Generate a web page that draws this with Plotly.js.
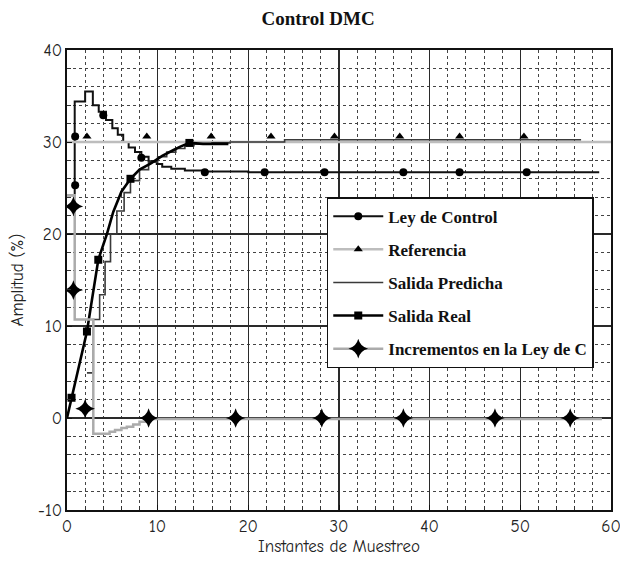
<!DOCTYPE html>
<html>
<head>
<meta charset="utf-8">
<script src="https://cdn.plot.ly/plotly-3.0.1.min.js"></script>
<style>html,body{margin:0;padding:0;background:#fff}#chart{width:620px;height:571px}</style>
</head>
<body>
<div id="chart"></div>
<script>
// ---- data ----
const seriesNames = ["Ley de Control", "Referencia", "Salida Predicha", "Salida Real", "Incrementos en la Ley de C"];

const leyX = [0, 0.85, 2.0, 2.85, 3.5, 4.3, 5.0, 5.6, 6.2, 6.8, 7.5, 8.2, 9.0, 9.9, 10.5, 11.5, 13.0, 15.0, 20.0, 58.7];
const leyY = [24.2, 34.4, 35.5, 34.0, 33.3, 32.4, 31.5, 30.8, 30.0, 29.4, 28.9, 28.4, 27.9, 27.6, 27.3, 27.1, 26.9, 26.8, 26.7, 26.7];
const leyMarkX = [0.9, 0.9, 4.0, 8.2, 15.2, 21.8, 28.4, 37.1, 43.3, 50.7];
const leyMarkY = [30.6, 25.3, 32.9, 28.3, 26.7, 26.7, 26.7, 26.7, 26.7, 26.7];

const refX = [0, 60];
const refY = [30, 30];
const refMarkX = [2.2, 8.8, 15.9, 22.5, 29.5, 36.7, 43.3, 50.4];
const refMarkY = [30.6, 30.6, 30.6, 30.6, 30.6, 30.6, 30.6, 30.6];

const predX = [2.2, 2.9, 3.6, 4.2, 4.8, 5.5, 6.3, 7.0, 8.0, 9.0, 10.0, 11.0, 12.0, 13.0, 14.0, 16.0, 18.0, 24.0, 56.7];
const predY = [4.9, 10.7, 13.4, 17.0, 20.0, 22.5, 24.5, 25.8, 27.0, 27.8, 28.4, 28.9, 29.3, 29.6, 29.8, 29.9, 30.0, 30.25, 30.25];

const realX = [0, 0.5, 2.2, 3.45, 4.4, 5.1, 6.0, 7.0, 8.0, 9.3, 10.5, 11.7, 12.5, 13.5, 15.0, 17.8];
const realY = [0, 2.2, 9.4, 17.2, 20.0, 22.4, 24.6, 26.0, 27.0, 27.7, 28.5, 29.1, 29.5, 29.9, 29.8, 29.8];
const realMarkX = [0.5, 2.2, 3.45, 7.0, 13.5];
const realMarkY = [2.2, 9.4, 17.2, 26.0, 29.9];

const incX = [0, 0.85, 2.9, 4.7, 5.3, 6.0, 6.6, 7.3, 8.0, 9.1, 59];
const incY = [24.2, 10.7, -1.7, -1.5, -1.3, -1.1, -0.95, -0.7, -0.4, -0.1, -0.1];
const incMarkX = [0.7, 0.7, 2.0, 9.0, 18.6, 28.1, 37.1, 47.2, 55.5];
const incMarkY = [23.0, 13.9, 1.0, 0, 0, 0, 0, 0, 0];

const xTicks = [0, 10, 20, 30, 40, 50, 60];
const yTicks = [-10, 0, 10, 20, 30, 40];

// ---- styles ----
const styles = [
  {color: "#111111", width: 2, shape: "hv", symbol: "circle", msize: 8},
  {color: "#bdbdbd", width: 2.5, shape: "linear", symbol: "triangle-up", msize: 8},
  {color: "#3a3a3a", width: 1.6, shape: "hv", symbol: null, msize: 0},
  {color: "#000000", width: 2.6, shape: "linear", symbol: "square", msize: 8},
  {color: "#ababab", width: 2.5, shape: "hv", symbol: "star-diamond", msize: 14}
];
const lines = [[leyX, leyY], [refX, refY], [predX, predY], [realX, realY], [incX, incY]];
const marks = [[leyMarkX, leyMarkY], [refMarkX, refMarkY], null, [realMarkX, realMarkY], [incMarkX, incMarkY]];

const traces = [];
seriesNames.forEach((name, i) => {
  const s = styles[i];
  traces.push({
    x: lines[i][0], y: lines[i][1], type: "scatter", mode: "lines",
    line: {color: s.color, width: s.width, shape: s.shape},
    name: name, legendgroup: "g" + i, showlegend: false, hoverinfo: "skip"
  });
  if (marks[i]) {
    traces.push({
      x: marks[i][0], y: marks[i][1], type: "scatter", mode: "markers",
      marker: {symbol: s.symbol, size: s.msize, color: "#000"},
      name: name, legendgroup: "g" + i, showlegend: false, hoverinfo: "skip"
    });
  }
  const leg = {
    x: [null], y: [null], type: "scatter",
    mode: s.symbol ? "lines+markers" : "lines",
    line: {color: s.color, width: s.width},
    name: name, legendgroup: "g" + i, showlegend: true
  };
  if (s.symbol) leg.marker = {symbol: s.symbol, size: s.msize, color: "#000"};
  traces.push(leg);
});

const tickFont = {family: "Comic Neue, 'DejaVu Sans Condensed', 'Liberation Sans Narrow', 'DejaVu Sans', sans-serif", size: 17, color: "#222"};

const layout = {
  width: 620, height: 571,
  margin: {l: 67, r: 9, t: 50, b: 61},
  paper_bgcolor: "#fff", plot_bgcolor: "#fff",
  title: {
    text: "<b>Control DMC</b>",
    font: {family: "'Liberation Serif', 'DejaVu Serif', serif", size: 19, color: "#111"},
    x: 0.513, xref: "container", xanchor: "center",
    y: 0.968, yref: "container", yanchor: "middle"
  },
  xaxis: {
    range: [0, 60], tickmode: "array", tickvals: xTicks, ticktext: xTicks.map(String),
    ticklabeloverflow: "allow",
    showgrid: true, gridcolor: "#2a2a2a", gridwidth: 1.3,
    zeroline: false, showline: true, mirror: true, linecolor: "#111", linewidth: 1.6,
    ticks: "inside", ticklen: 5, tickcolor: "#111",
    minor: {dtick: 2, showgrid: true, gridcolor: "#444", griddash: "3px,3px", gridwidth: 1.1, ticks: "inside", ticklen: 4, tickcolor: "#333"},
    tickfont: tickFont,
    title: {text: "Instantes de Muestreo", font: tickFont, standoff: 5}
  },
  yaxis: {
    range: [-10, 40], tickmode: "array", tickvals: yTicks, ticktext: yTicks.map(String),
    ticklabeloverflow: "allow",
    showgrid: true, gridcolor: "#2a2a2a", gridwidth: 1.3,
    zeroline: false, showline: true, mirror: true, linecolor: "#111", linewidth: 1.6,
    ticks: "inside", ticklen: 5, tickcolor: "#111",
    minor: {dtick: 2, showgrid: true, gridcolor: "#444", griddash: "3px,3px", gridwidth: 1.1, ticks: "inside", ticklen: 4, tickcolor: "#333"},
    tickfont: tickFont,
    title: {text: "Amplitud (%)", font: tickFont, standoff: 10}
  },
  legend: {
    x: 0.4775, y: 0.68, xanchor: "left", yanchor: "top",
    bgcolor: "#fff", bordercolor: "#111", borderwidth: 1.5,
    font: {family: "'Liberation Serif', 'DejaVu Serif', serif", size: 17, color: "#111", weight: "bold"},
    traceorder: "grouped", tracegroupgap: 8, itemwidth: 50
  },
  showlegend: true
};

Plotly.newPlot("chart", traces, layout, {staticPlot: true, displayModeBar: false});
</script>
</body>
</html>
